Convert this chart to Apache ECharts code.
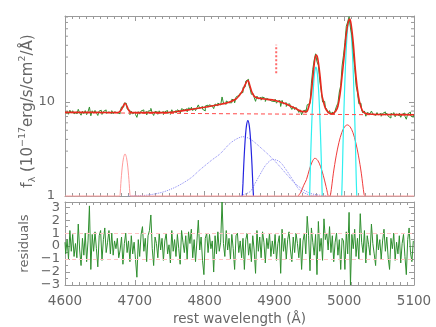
<!doctype html>
<html>
<head>
<meta charset="utf-8">
<title>spectrum fit</title>
<script src="https://cdn.jsdelivr.net/npm/echarts@6/dist/echarts.min.js"></script>
</head>
<body style="margin:0">
<div id="chart" style="width:436px;height:327px;"></div>
<script>
// observed spectrum, sampled every 2 A from 4600 A
var waveStart = 4600, waveStep = 2;
var flux = [
 7.86,7.54,7.93,7.40,8.17,7.61,8.07,7.47,7.82,7.44,
 8.35,7.65,7.23,7.96,7.51,8.10,7.33,7.89,8.84,7.12,
 8.06,7.60,8.13,7.67,7.18,8.02,8.16,7.36,7.92,8.23,
 7.56,7.84,8.15,7.52,8.08,7.49,7.87,7.66,7.94,7.49,
 8.00,8.85,8.81,9.77,9.65,8.43,8.14,7.33,7.98,7.49,
 7.81,7.35,6.86,7.88,7.42,8.02,8.23,7.56,7.91,7.28,
 7.98,8.12,8.54,7.63,7.18,7.95,7.77,7.39,8.05,7.60,
 7.91,7.34,7.87,8.10,7.56,7.84,7.37,8.26,7.72,8.06,
 7.62,8.26,7.91,7.53,8.48,8.21,7.97,8.46,7.87,8.65,
 8.37,8.81,8.09,8.63,8.08,8.69,9.30,8.55,8.95,8.37,
 8.03,9.06,9.25,8.79,9.34,9.01,9.27,8.49,9.52,9.09,
 9.74,9.28,9.61,11.30,9.73,9.46,10.24,9.80,10.21,9.80,
 10.70,10.36,9.79,11.26,11.75,11.58,12.38,12.60,14.27,14.39,
 16.65,17.40,15.45,13.90,12.06,12.16,11.16,10.15,11.54,10.77,
 11.22,10.45,11.30,10.89,10.12,10.92,10.51,11.00,10.14,10.63,
 10.13,10.70,9.70,10.19,10.36,8.95,10.39,9.52,9.82,8.95,
 9.45,9.54,8.83,8.32,8.93,8.30,8.75,8.28,7.74,8.24,
 7.29,8.02,8.21,7.69,9.32,9.62,10.05,15.84,22.24,27.80,
 32.50,26.80,24.52,16.76,13.30,10.00,10.14,8.78,8.35,7.60,
 8.08,7.33,7.83,7.28,8.11,9.00,9.69,12.75,14.92,24.18,
 31.40,42.66,63.65,71.04,80.42,61.20,51.26,33.78,23.17,14.94,
 12.53,9.55,9.70,8.20,7.62,8.02,7.05,7.73,7.47,7.18,
 8.00,7.47,7.19,6.88,7.71,7.29,7.57,7.04,7.53,7.84,
 7.23,7.61,7.05,6.74,7.56,7.28,7.70,6.96,7.45,7.13,
 7.60,6.87,7.39,7.63,7.04,6.55,7.48,7.80,7.13,6.88,
 7.44
];
var resid = [
 0.3,-0.6,0.5,-1.0,1.2,-0.4,0.9,-0.8,0.2,-0.9,
 1.7,-0.3,-1.5,0.6,-0.7,1.0,-1.2,0.4,3.1,-1.8,
 0.9,-0.4,1.1,-0.2,-1.6,0.8,1.2,-1.1,0.5,1.4,
 -0.5,0.3,1.2,-0.6,1.0,-0.7,0.4,-0.2,0.6,-0.9,
 -0.3,0.7,-1.4,0.2,1.0,-0.5,0.4,-1.2,0.8,-0.6,
 0.3,-1.0,-2.4,0.5,-0.8,0.9,1.5,-0.4,0.6,-1.2,
 0.8,1.2,2.4,-0.2,-1.5,0.7,0.2,-0.9,1.0,-0.3,
 0.6,-1.1,0.4,1.0,-0.6,0.1,-1.3,1.2,-0.4,0.5,
 -0.8,0.9,-0.2,-1.4,1.2,0.3,-0.5,0.8,-1.0,1.1,
 0.2,1.3,-0.9,0.5,-1.2,0.4,2.0,-0.3,0.7,-1.1,
 -2.2,0.6,1.0,-0.5,0.9,-0.2,0.4,-2.0,0.8,-0.6,
 1.1,-0.4,0.3,3.4,0.2,-0.8,1.2,-0.3,0.6,-1.0,
 0.9,-0.2,-1.8,0.8,1.0,-0.5,0.4,-0.9,0.6,-1.8,
 0.5,1.0,-0.7,0.2,-1.2,0.8,-0.3,-2.1,1.2,-0.4,
 0.7,-0.9,1.1,0.3,-1.3,0.6,-0.2,1.0,-0.8,0.4,
 -0.6,0.9,-1.1,0.2,0.8,-2.1,1.3,-0.4,0.6,-1.0,
 0.5,1.1,-0.3,-1.2,0.7,-0.5,1.0,0.2,-0.9,0.6,
 -1.8,0.4,1.0,-0.6,2.3,0.8,-1.9,1.4,0.3,-0.7,
 0.9,-2.2,1.9,-0.4,0.6,-1.1,2.1,0.5,1.0,-0.3,
 1.5,-0.5,0.8,-1.2,0.3,1.0,-0.7,0.5,-1.8,0.6,
 0.4,-1.8,1.1,-0.6,2.6,-3.0,0.9,-0.2,1.3,-0.8,
 0.6,-1.0,2.5,0.3,-0.5,1.2,-1.3,0.8,0.1,-0.7,
 1.7,0.2,-0.6,-1.5,0.9,-0.3,0.5,-1.0,0.4,1.3,
 -0.4,0.7,-0.9,-1.8,0.6,-0.2,1.0,-1.1,0.3,-0.6,
 0.8,-1.3,0.2,0.9,-0.8,-2.2,0.5,1.4,-0.5,-1.2,
 0.4
];

// total model
var modelWave = [4600,4640,4676,4680,4683,4686,4689,4692,4696,4720,4740,4760,4780,4800,4820,4835,4845,4850,4854,4858,4862,4865,4868,4872,4878,4890,4900,4915,4929,4941,4946,4949,4952,4955,4958,4960,4962,4965,4968,4970,4973,4977,4981,4984,4988,4991,4994,4997,5000,5003,5006,5008,5010,5013,5016,5019,5022,5026,5030,5040,5070,5100];
var modelFlux = [7.75,7.74,7.73,8.1,8.9,9.7,8.9,8.0,7.7,7.7,7.7,7.9,8.3,8.8,9.35,9.95,10.75,11.8,13.0,15.2,16.9,14.8,12.6,11.3,10.95,10.65,10.4,9.6,8.6,7.9,7.9,8.8,11.0,18.0,28.5,31.6,29.0,20.0,12.0,10.3,8.6,7.8,7.5,7.55,8.0,9.0,12.0,19.0,31,53,72,76,66,42,22,13.5,10.0,8.1,7.6,7.41,7.35,7.3];
// power-law continuum
var contWave = [4600,4700,4800,4900,5000,5100];
var contFlux = [7.7,7.61,7.52,7.44,7.35,7.27];
// He II 4686
var heWave = [4600,4678,4679,4680,4682,4684,4686,4688,4690,4692,4693,4694,5100];
var heFlux = [1,1,1.05,1.36,2.03,2.58,2.8,2.58,2.03,1.36,1.05,1,1];
// broad H-beta components
var hbBroad1Wave = [4690,4717,4740,4760,4780,4793,4810,4822,4836,4846,4855,4866,4884,4896,4908,4920,4932,4951,4975];
var hbBroad1Flux = [1,1.02,1.1,1.26,1.55,1.89,2.4,2.8,3.6,4.05,4.27,4.0,3.09,2.55,2.05,1.62,1.31,1.07,1];
var hbBroad2Wave = [4850,4865,4872,4879,4888,4898,4908,4917,4926,4936,4951,4962];
var hbBroad2Flux = [1,1.11,1.35,1.67,2.15,2.45,2.3,1.89,1.5,1.16,1.02,1];
// narrow H-beta
var hbNarrowWave = [4854,4855,4856,4858,4860,4862,4864,4866,4868,4869,4870];
var hbNarrowFlux = [1,1.37,2.06,3.84,5.59,6.33,5.59,3.84,2.06,1.37,1];
// [O III] cores
var o3aWave = [4950,4950.5,4951.5,4952.5,4953.5,4954.5,4955.5,4956.5,4957.5,4958.5,4959.5,4960.5,4961.5,4962.5,4963.5,4964.5,4965.5,4966.5,4967.5,4968.5,4969];
var o3aFlux = [1,1.03,1.99,3.53,5.83,8.92,12.6,16.5,20.1,22.5,23.4,22.5,20.1,16.5,12.6,8.92,5.83,3.53,1.99,1.03,1];
var o3bWave = [4996.4,4997.2,4998.2,4999.2,5000.2,5001.2,5002.2,5003.2,5004.2,5005.2,5006.2,5007.2,5008.2,5009.2,5010.2,5011.2,5012.2,5013.2,5014.2,5015.2,5016.2,5017.2,5018];
var o3bFlux = [1,1.55,3.26,6.29,11.2,18.4,28.2,39.9,52.3,63.4,71.2,74,71.2,63.4,52.3,39.9,28.2,18.4,11.2,6.29,3.26,1.55,1];
// [O III] wings
var wingAWave = [4934,4938,4942,4946,4950,4954,4958,4962,4966,4970,4974,4977];
var wingAFlux = [1,1.1,1.3,1.5,1.9,2.3,2.52,2.4,2.07,1.66,1.26,1];
var wingBWave = [4979,4980.5,4984.5,4988.5,4992.5,4996.5,5000.5,5004.5,5008.5,5012.5,5016.5,5020.5,5024.5,5028.5,5030];
var wingBFlux = [1,1.04,1.75,2.67,3.72,4.72,5.44,5.7,5.44,4.72,3.72,2.67,1.75,1.04,1];
// short vertical marker
var markWave = [4902.6,4902.6];
var markFlux = [20.2,40.5];
var residGuides = [-1, 1];
var logMinorTicks = [2,3,4,5,6,7,8,9,20,30,40,50,60,70,80];

var gray = '#9a9a9a';
var txt = '#666';
var font = 'DejaVu Sans';

function pairs(xs, ys) {
	return xs.map(function(x, i) { return [x, ys[i]]; });
}
function curve(xs, ys, color, width, type, smooth) {
	return {
		type: 'line', xAxisIndex: 0, yAxisIndex: 0,
		data: pairs(xs, ys), symbol: 'none', smooth: smooth || 0,
		silent: true,
		lineStyle: { color: color, width: width, type: type || 'solid' }
	};
}
function xAx(grid, pos, labels) {
	return {
		type: 'value', gridIndex: grid, position: pos, min: 4600, max: 5100, interval: 100,
		axisLine: { show: true, onZero: false, lineStyle: { color: gray, width: 1 } },
		axisTick: { show: true, inside: true, length: 5, lineStyle: { color: gray } },
		minorTick: { show: true, splitNumber: 10, length: 3, lineStyle: { color: gray } },
		splitLine: { show: false },
		axisLabel: {
			show: labels, color: txt, fontFamily: font, fontSize: 13.5, margin: 9,
			formatter: function(v) { return String(v); }
		},
		name: labels ? 'rest wavelength (Å)' : '',
		nameLocation: 'middle', nameGap: 27, nameMoveOverlap: false,
		nameTextStyle: { color: txt, fontFamily: font, fontSize: 13.5 }
	};
}
function yLog(pos, labels) {
	return {
		type: 'log', logBase: 10, gridIndex: 0, position: pos, min: 1, max: 82,
		axisLine: { show: true, lineStyle: { color: gray, width: 1 } },
		axisTick: { show: true, inside: true, length: 5, lineStyle: { color: gray } },
		splitLine: { show: false },
		axisLabel: {
			show: labels, color: txt, fontFamily: font, fontSize: 13, margin: 10,
			showMaxLabel: false,
			formatter: function(v) { return (v === 1 || v === 10) ? String(v) : ''; }
		},
		name: labels ? '{t|f}{s|λ}{t| (10}{p|−17}{t|erg/s/cm}{p|2}{t|/Å)}' : '',
		nameLocation: 'middle', nameGap: 27, nameMoveOverlap: false,
		nameTextStyle: {
			padding: [0, 10, 0, 0],
			rich: {
				t: { color: txt, fontFamily: font, fontSize: 15, lineHeight: 20, verticalAlign: 'middle' },
				s: { color: txt, fontFamily: font, fontSize: 9.5, lineHeight: 20, verticalAlign: 'bottom' },
				p: { color: txt, fontFamily: font, fontSize: 9.5, lineHeight: 20, verticalAlign: 'top' }
			}
		}
	};
}
function yRes(pos, labels) {
	return {
		type: 'value', gridIndex: 1, position: pos, min: -3, max: 3.4, interval: 1,
		axisLine: { show: true, onZero: false, lineStyle: { color: gray, width: 1 } },
		axisTick: { show: true, inside: true, length: 5, lineStyle: { color: gray } },
		minorTick: { show: true, splitNumber: 2, length: 3, lineStyle: { color: gray } },
		splitLine: { show: false },
		axisLabel: {
			show: labels, color: txt, fontFamily: font, fontSize: 13, margin: 5,
			formatter: function(v) {
				if (Math.abs(v - Math.round(v)) > 1e-6) return '';
				return v < 0 ? '−' + (-v) : String(v);
			}
		},
		name: labels ? 'residuals' : '',
		nameLocation: 'middle', nameGap: 34, nameMoveOverlap: false,
		nameTextStyle: { color: txt, fontFamily: font, fontSize: 13 }
	};
}

var fluxData = flux.map(function(v, i) { return [waveStart + i * waveStep, v]; });
var residData = resid.map(function(v, i) { return [waveStart + i * waveStep, v]; });

var heSeries = curve(heWave, heFlux, '#ff9c9c', 1, 'solid', 0.3);
heSeries.clip = false;
heSeries.z = 5;

var mychart = echarts.init(document.getElementById('chart'));
mychart.setOption({
	animation: false,
	backgroundColor: '#fff',
	grid: [
		{ left: 65, right: 22, top: 16, height: 180 },
		{ left: 65, right: 22, top: 202, height: 83 }
	],
	xAxis: [xAx(0, 'bottom', false), xAx(0, 'top', false), xAx(1, 'bottom', true), xAx(1, 'top', false)],
	yAxis: [yLog('left', true), yLog('right', false), yRes('left', true), yRes('right', false)],
	series: [
		heSeries,
		curve(hbBroad1Wave, hbBroad1Flux, '#8a8af2', 1, 'dotted', 0.3),
		curve(hbBroad2Wave, hbBroad2Flux, '#8a8af2', 1, 'dotted', 0.3),
		curve(hbNarrowWave, hbNarrowFlux, '#2424e0', 1.2, 'solid', 0.3),
		curve(wingAWave, wingAFlux, '#f03c3c', 1, 'solid', 0.3),
		curve(wingBWave, wingBFlux, '#f03c3c', 1, 'solid', 0.3),
		curve(o3aWave, o3aFlux, '#2ef0f0', 1.2, 'solid', 0.3),
		curve(o3bWave, o3bFlux, '#2ef0f0', 1.2, 'solid', 0.3),
		{
			type: 'line', xAxisIndex: 0, yAxisIndex: 0, data: fluxData,
			step: 'middle', symbol: 'none', silent: true,
			lineStyle: { color: '#2f8f2f', width: 1 }
		},
		curve(contWave, contFlux, '#ff4a4a', 1, [4, 3], 0),
		curve(modelWave, modelFlux, '#e8281e', 1.6, 'solid', 0.35),
		curve(markWave, markFlux, '#ff6a6a', 2, [2, 2], 0),
		{
			// minor decade ticks for the log axis, both sides
			type: 'custom', xAxisIndex: 0, yAxisIndex: 0, silent: true,
			data: logMinorTicks.map(function(v) { return [4600, v]; }),
			renderItem: function(params, api) {
				var l = api.coord([4600, api.value(1)]);
				var r = api.coord([5100, api.value(1)]);
				return {
					type: 'group', children: [
						{ type: 'line', shape: { x1: l[0], y1: l[1], x2: l[0] + 3, y2: l[1] }, style: { stroke: gray, lineWidth: 1 } },
						{ type: 'line', shape: { x1: r[0] - 3, y1: r[1], x2: r[0], y2: r[1] }, style: { stroke: gray, lineWidth: 1 } }
					]
				};
			}
		},
		{
			type: 'line', xAxisIndex: 2, yAxisIndex: 2, data: residData,
			step: 'middle', symbol: 'none', silent: true,
			lineStyle: { color: '#2f8f2f', width: 1 },
			markLine: {
				silent: true, symbol: 'none', label: { show: false },
				lineStyle: { color: '#ffc4c4', type: [4, 3], width: 1 },
				data: residGuides.map(function(v) { return { yAxis: v }; })
			}
		}
	]
});
</script>
</body>
</html>
